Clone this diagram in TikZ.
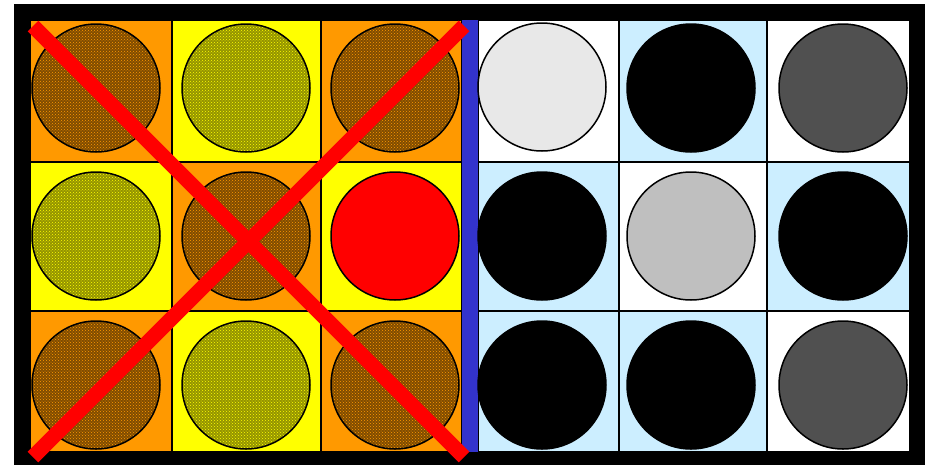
\documentclass[tikz,border=0pt]{standalone}
\usepackage{tikz}
\usetikzlibrary{patterns}
\usepackage{xcolor}
\definecolor{GridOrange}{HTML}{FF9900}
\definecolor{GridYellow}{HTML}{FFFF00}
\definecolor{GridSky}{HTML}{CCEEFF}
\definecolor{GridBlue}{HTML}{3333CC}
\definecolor{BallPale}{HTML}{E8E8E8}
\definecolor{BallMid}{HTML}{BFBFBF}
\definecolor{BallDark}{HTML}{505050}
\begin{document}
\begin{tikzpicture}[x=1pt,y=-1pt,
    cell/.style={draw=black,line width=1.5pt},
    ball/.style={circle,draw=black,line width=1.5pt,minimum size=128pt,inner sep=0pt},
    brownball/.style={preaction={fill=GridOrange!50!black},pattern=crosshatch dots,pattern color=GridOrange},
    yellowball/.style={preaction={fill=GridYellow!58!black},pattern=crosshatch dots,pattern color=GridYellow},
    redball/.style={fill=red}]
    \useasboundingbox (0,0) rectangle (930,464);
    \fill[black] (14,4) rectangle (925,468);
    % left panel
    \foreach \col/\xa/\ya/\xb/\yb in {GridOrange/30/20/172/162,GridYellow/172/20/321/162,GridOrange/321/20/462/162,
        GridYellow/30/162/172/311,GridOrange/172/162/321/311,GridYellow/321/162/462/311,
        GridOrange/30/311/172/452,GridYellow/172/311/321/452,GridOrange/321/311/462/452}{\draw[cell,fill=\col] (\xa,\ya) rectangle (\xb,\yb);}
    % right panel
    \foreach \col/\xa/\ya/\xb/\yb in {white/478/20/619/162,GridSky/619/20/767/162,white/767/20/910/162,
        GridSky/478/162/619/311,white/619/162/767/311,GridSky/767/162/910/311,
        GridSky/478/311/619/452,GridSky/619/311/767/452,white/767/311/910/452}{\draw[cell,fill=\col] (\xa,\ya) rectangle (\xb,\yb);}
    \fill[GridBlue] (462,20) rectangle (478,452);
    \foreach \sty/\x/\y/\n in {brownball/96/88/a1,yellowball/246/88/a2,brownball/395/88/a3,
        yellowball/96/236/b1,brownball/246/236/b2,redball/395/236/b3,
        brownball/96/385/c1,yellowball/246/385/c2,brownball/395/385/c3}{\node[ball,\sty] (\n) at (\x,\y) {};}
    \foreach \sty/\x/\y/\n in {BallPale/542/87/d1,black/691/88/d2,BallDark/843/88/d3,
        black/542/236/e1,BallMid/691/236/e2,black/843/236/e3,
        black/542/385/f1,black/691/385/f2,BallDark/843/385/f3}{\node[ball,fill=\sty] (\n) at (\x,\y) {};}
    % cross-out
    \coordinate (nw) at (33,26);
    \coordinate (se) at (464,457);
    \coordinate (ne) at (464,26);
    \coordinate (sw) at (33,457);
    \draw[red,line width=15pt] (nw)--(se) (ne)--(sw);
\end{tikzpicture}
\end{document}
